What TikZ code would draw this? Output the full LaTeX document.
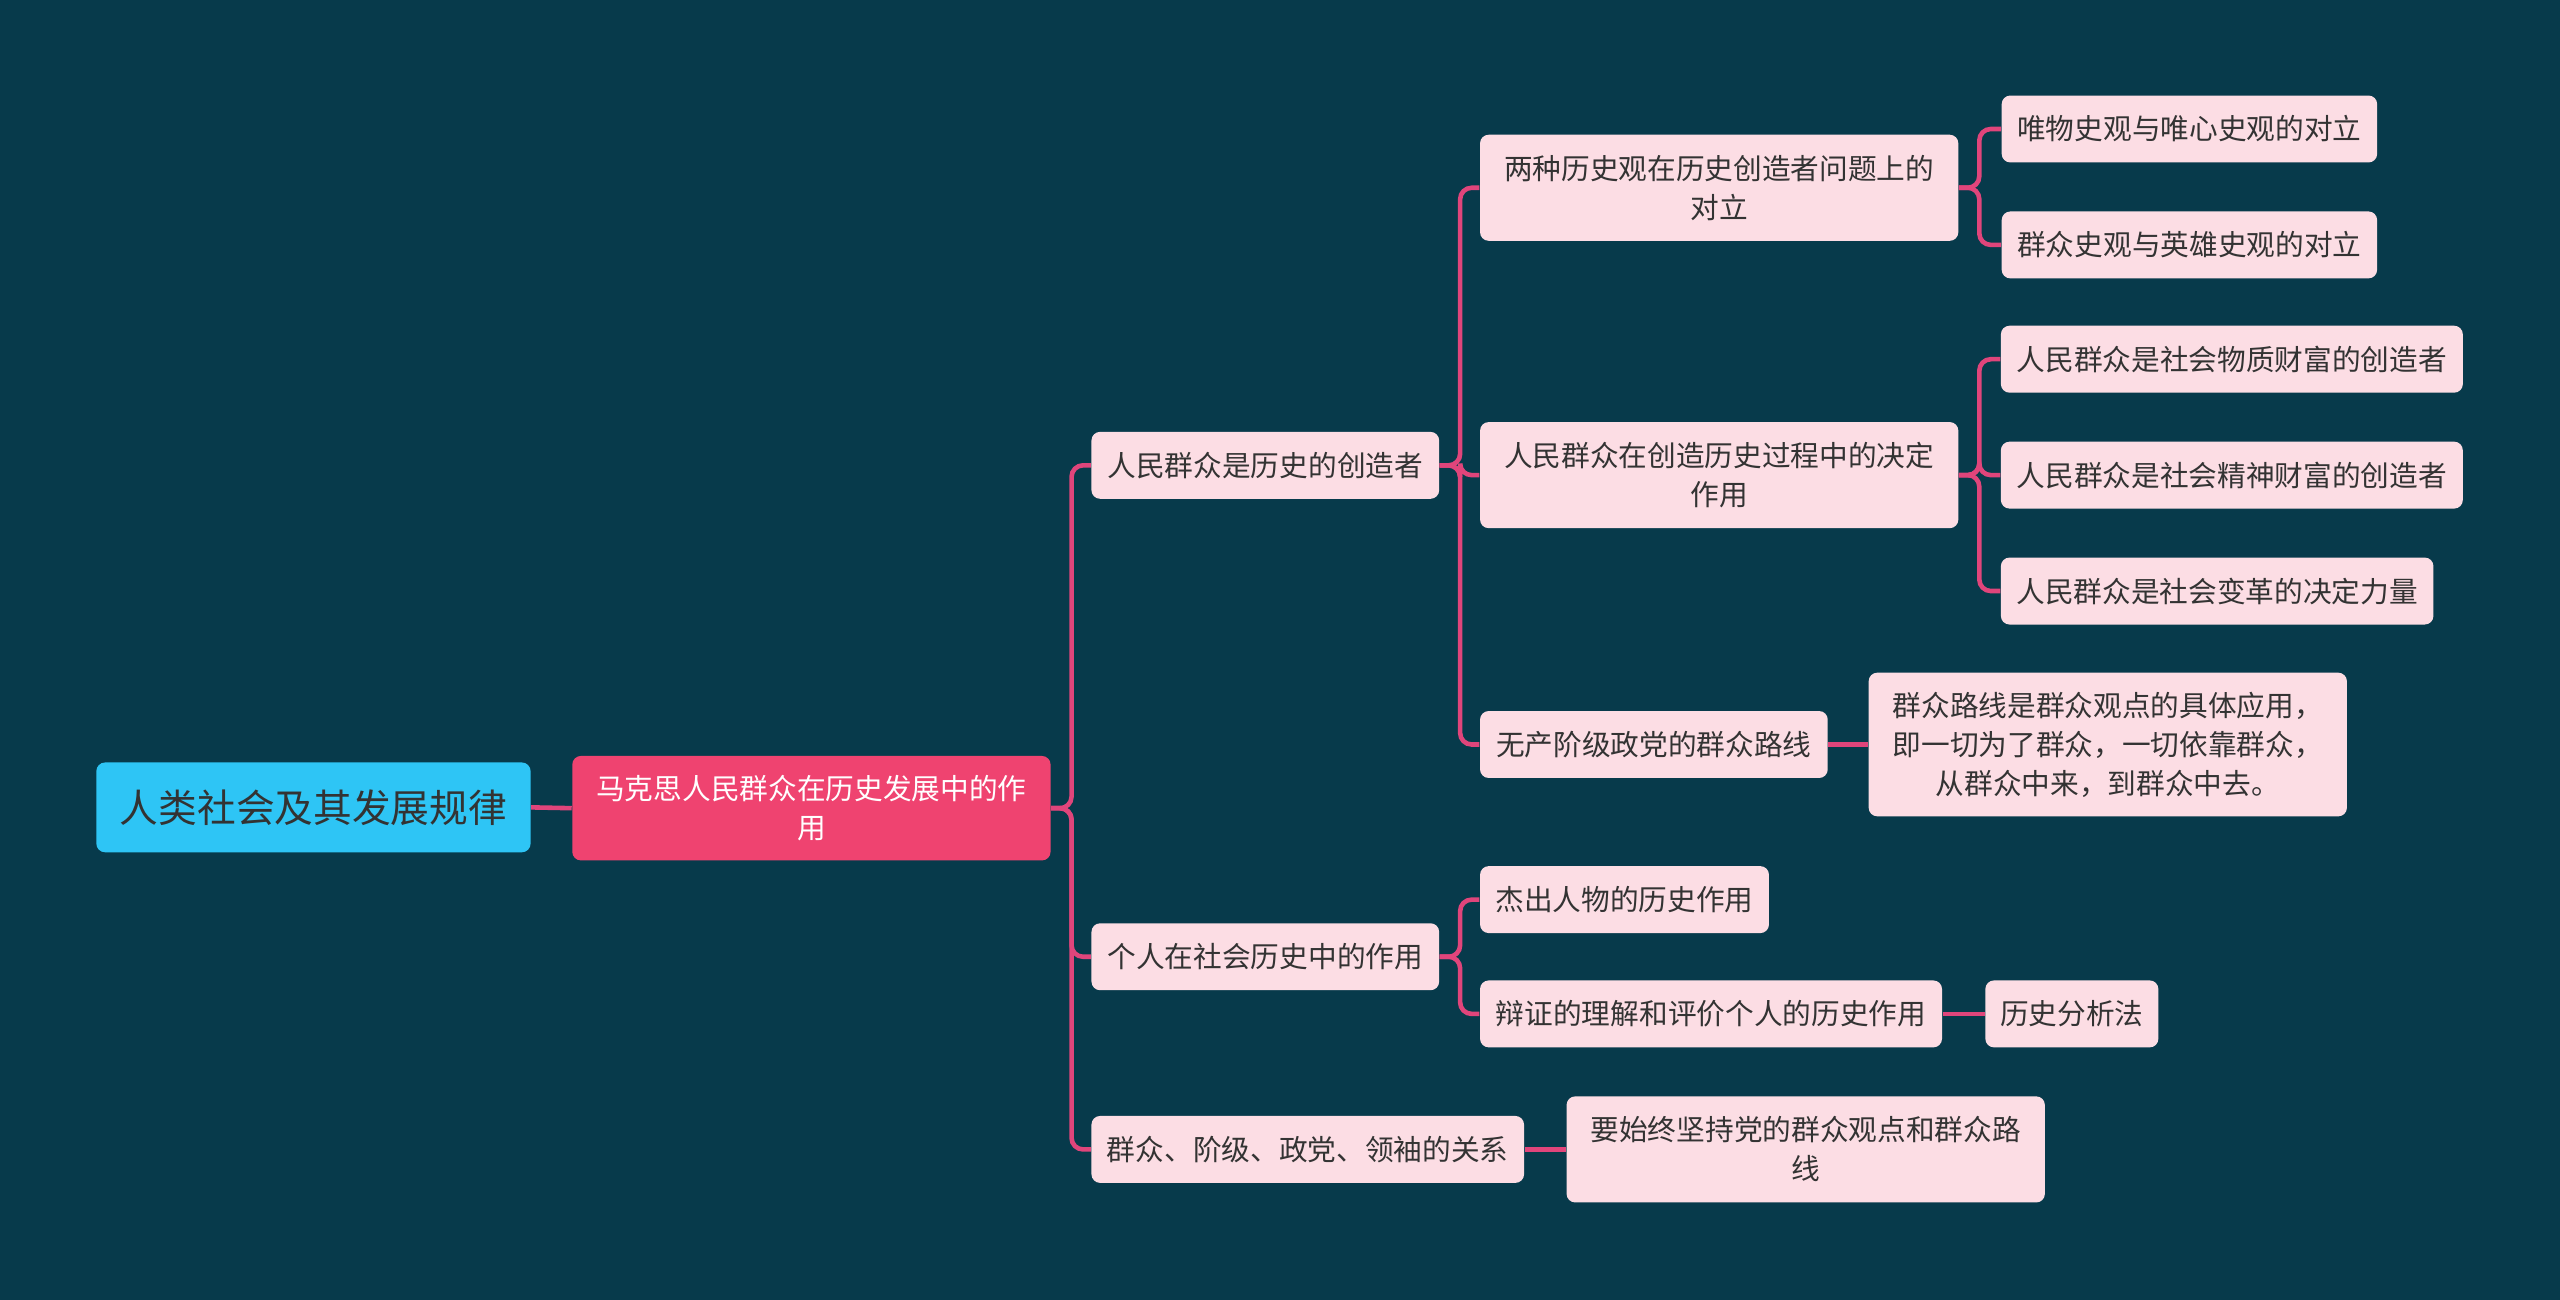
\documentclass[tikz,border=0pt]{standalone}
\usepackage{fontspec}
\setmainfont{Noto Sans CJK SC}
\usetikzlibrary{positioning}
\definecolor{bgcol}{HTML}{073A4B}
\definecolor{linkcol}{HTML}{E0457B}
\definecolor{leafcol}{HTML}{FCDDE4}
\definecolor{rootcol}{HTML}{2EC5F5}
\definecolor{maincol}{HTML}{EF4370}
\begin{document}
\begin{tikzpicture}[x=0.02cm,y=-0.02cm,
    leaf/.style ={draw=none, fill=leafcol, rounded corners=3pt, text=black!80,
      font=\fontsize{10}{13.6}\selectfont, align=center, minimum height=0.82cm, inner sep=2pt},
    link/.style ={draw=linkcol, line width=1.6pt, rounded corners=4pt}]
   \fill[bgcol] (0,0) rectangle (1568,796);
   \useasboundingbox (0,0) rectangle (1568,796);

   \node[leaf, fill=rootcol, minimum width=5.32cm, minimum height=1.1cm,
     font=\fontsize{13.5}{16}\selectfont] (root) at (192,494.5) {人类社会及其发展规律};
   \node[leaf, fill=maincol, text=white, minimum width=5.86cm, minimum height=1.28cm] (main) at (497,495) {马克思人民群众在历史发展中的作\\用};

   \node[leaf, minimum width=4.26cm] (A) at (775,285) {人民群众是历史的创造者};
   \node[leaf, minimum width=4.26cm] (B) at (775,586) {个人在社会历史中的作用};
   \node[leaf, minimum width=5.3cm] (C) at (801,704) {群众、阶级、政党、领袖的关系};

   \node[leaf, minimum width=5.86cm, minimum height=1.3cm] (A1) at (1053,115) {两种历史观在历史创造者问题上的\\对立};
   \node[leaf, minimum width=5.86cm, minimum height=1.3cm] (A2) at (1053,291) {人民群众在创造历史过程中的决定\\作用};
   \node[leaf, minimum width=4.26cm] (A3) at (1013,456) {无产阶级政党的群众路线};
   \node[leaf, minimum width=3.54cm] (B1) at (995,551) {杰出人物的历史作用};
   \node[leaf, minimum width=5.66cm] (B2) at (1048,621) {辩证的理解和评价个人的历史作用};
   \node[leaf, minimum width=5.86cm, minimum height=1.3cm] (C1) at (1106,704) {要始终坚持党的群众观点和群众路\\线};

   \node[leaf, minimum width=4.6cm] (A11) at (1341,79) {唯物史观与唯心史观的对立};
   \node[leaf, minimum width=4.6cm] (A12) at (1341,150) {群众史观与英雄史观的对立};
   \node[leaf, minimum width=5.66cm] (A21) at (1367,220) {人民群众是社会物质财富的创造者};
   \node[leaf, minimum width=5.66cm] (A22) at (1367,291) {人民群众是社会精神财富的创造者};
   \node[leaf, minimum width=5.3cm] (A23) at (1358,362) {人民群众是社会变革的决定力量};
   \node[leaf, minimum width=5.86cm, minimum height=1.76cm] (A31) at (1291,456) {群众路线是群众观点的具体应用，\\即一切为了群众，一切依靠群众，\\从群众中来，到群众中去。};
   \node[leaf, minimum width=2.12cm] (B21) at (1269,621) {历史分析法};

   % straight links
   \foreach \p/\c in {root/main, A3/A31, B2/B21, C/C1}
     \draw[link] (\p.east) -- (\c.west);
   % elbow links
   \foreach \p/\c in {main/A, main/B, main/C, A/A1, A/A2, A/A3, B/B1, B/B2,
       A1/A11, A1/A12, A2/A21, A2/A22, A2/A23}
     \draw[link] (\p.east) -- ([xshift=0.25cm]\p.east) |- (\c.west);

 \end{tikzpicture}
\end{document}
